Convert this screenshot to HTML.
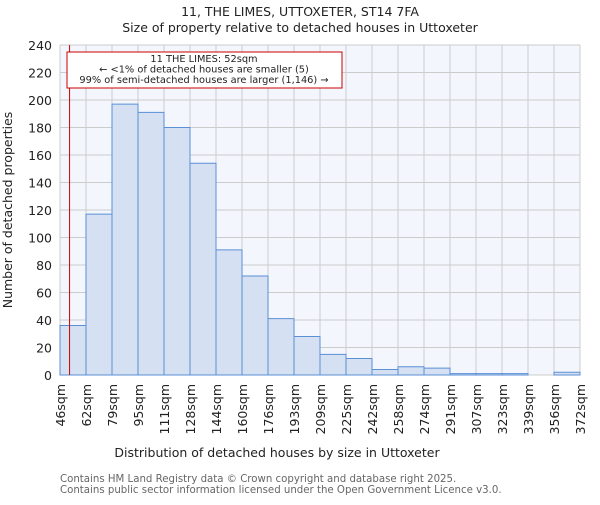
<!DOCTYPE html>
<html><head><meta charset="utf-8"><style>body{margin:0;background:#fff}svg text{font-family:"DejaVu Sans","Liberation Sans",sans-serif}</style></head>
<body>
<svg id="c" width="600" height="500" xmlns="http://www.w3.org/2000/svg">
<text x="300" y="16" text-anchor="middle" font-size="12.5" fill="#222">11, THE LIMES, UTTOXETER, ST14 7FA</text>
<text x="300" y="32" text-anchor="middle" font-size="12.5" fill="#222">Size of property relative to detached houses in Uttoxeter</text>
<rect x="60" y="45" width="520" height="330" fill="#f3f6fd"/>
<g id="grid"></g><g id="bars"></g><g id="ticks"></g>
<text x="277" y="457" text-anchor="middle" font-size="12.5" fill="#222">Distribution of detached houses by size in Uttoxeter</text>
<text transform="translate(12,210) rotate(-90)" text-anchor="middle" font-size="12.5" fill="#222">Number of detached properties</text>
<text x="60" y="482" font-size="10.2" fill="#666">Contains HM Land Registry data © Crown copyright and database right 2025.</text>
<text x="60" y="493" font-size="10.2" fill="#666">Contains public sector information licensed under the Open Government Licence v3.0.</text>
<g id="annot"></g>
</svg>
<script>
const categories=["46sqm","62sqm","79sqm","95sqm","111sqm","128sqm","144sqm","160sqm","176sqm","193sqm","209sqm","225sqm","242sqm","258sqm","274sqm","291sqm","307sqm","323sqm","339sqm","356sqm","372sqm"];
const counts=[36,117,197,191,180,154,91,72,41,28,15,12,4,6,5,1,1,1,0,2];
const yTicks=[0,20,40,60,80,100,120,140,160,180,200,220,240];
const markerValue=52;
const binStart=46, binWidth=16.3;
const NS="http://www.w3.org/2000/svg";
const X0=60,X1=580,Y0=375,Y1=45,YMAX=240;
const bw=(X1-X0)/counts.length;
const xi=i=>X0+i*bw;
const y=v=>Y0-(v/YMAX)*(Y0-Y1);
function mk(t,a,p){const e=document.createElementNS(NS,t);for(const k in a)e.setAttribute(k,a[k]);p.appendChild(e);return e;}
const G=document.getElementById('grid'),B=document.getElementById('bars'),T=document.getElementById('ticks'),A=document.getElementById('annot');
for(let i=0;i<=counts.length;i++){const l=mk('line',{x1:xi(i),x2:xi(i),y1:Y1,y2:Y0,stroke:'#cccccc','stroke-width':1},G);

}
yTicks.forEach(v=>{const l=mk('line',{x1:X0,x2:X1,y1:y(v),y2:y(v),stroke:'#cccccc','stroke-width':1},G);


const t=mk('text',{x:X0-8,y:y(v)+5,'text-anchor':'end','font-size':12.5,fill:'#222'},T);t.textContent=v;

});
counts.forEach((c,i)=>{const r=mk('rect',{x:xi(i),y:y(c),width:bw,height:Y0-y(c),fill:'#d6e0f3',stroke:'#5b8fd6','stroke-width':1},B);

});
categories.forEach((c,i)=>{const t=mk('text',{transform:`translate(${xi(i)+5},384) rotate(-90)`,'text-anchor':'end','font-size':12.5,fill:'#222'},T);t.textContent=c;

});
const mx=X0+(markerValue-binStart)/binWidth*bw;
const ml=mk('line',{x1:mx,x2:mx,y1:Y1,y2:Y0,stroke:'#cc0000','stroke-width':1},A);


const box=mk('rect',{x:67,y:52,width:275,height:36,fill:'#fff',stroke:'#cc0000','stroke-width':1},A);


["11 THE LIMES: 52sqm","← <1% of detached houses are smaller (5)","99% of semi-detached houses are larger (1,146) →"].forEach((s,i)=>{const t=mk('text',{x:204,y:62+i*10.5,'text-anchor':'middle','font-size':9.8,fill:'#222'},A);t.textContent=s;

});
</script>
</body></html>
